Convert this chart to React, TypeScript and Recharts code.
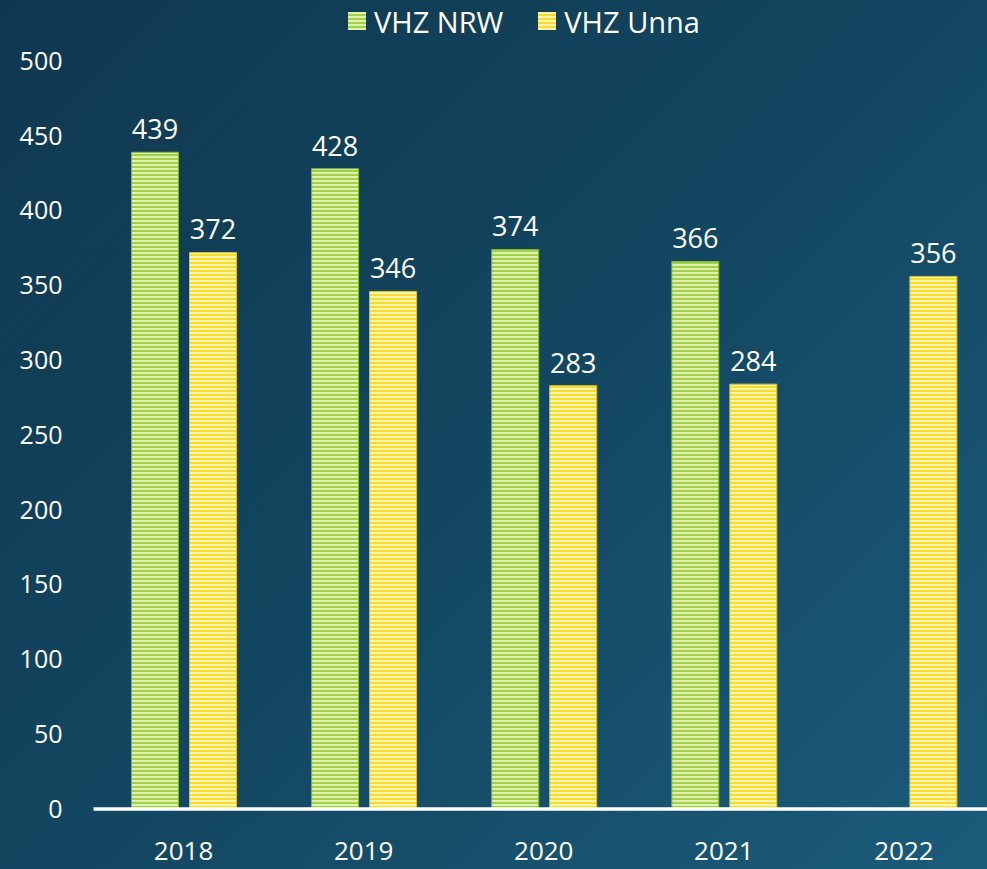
import React from 'react';
import { BarChart, Bar, XAxis, YAxis, Legend, LabelList } from 'recharts';

const years = ['2018', '2019', '2020', '2021', '2022'];
const vhzNrw: (number | null)[] = [439, 428, 374, 366, null];
const vhzUnna: number[] = [372, 346, 283, 284, 356];
const yTicks = [0, 50, 100, 150, 200, 250, 300, 350, 400, 450, 500];

const data = years.map((y, i) => ({ year: y, nrw: vhzNrw[i], unna: vhzUnna[i] }));

const FONT = '"Open Sans", "Noto Sans", sans-serif';

const LegendContent = () => (
  <div style={{ display: 'flex', justifyContent: 'center', alignItems: 'center', height: 40, paddingLeft: 54, fontFamily: FONT, fontSize: 29, color: '#ffffff' }}>
    <span style={{ display: 'inline-flex', alignItems: 'center', marginRight: 35 }}>
      <svg width={18} height={18} style={{ marginRight: 8 }}>
        <rect x={0} y={0} width={18} height={18} fill="url(#stripeGreen)" />
      </svg>
      VHZ NRW
    </span>
    <span style={{ display: 'inline-flex', alignItems: 'center' }}>
      <svg width={18} height={18} style={{ marginRight: 8 }}>
        <rect x={0} y={0} width={18} height={18} fill="url(#stripeYellow)" />
      </svg>
      VHZ Unna
    </span>
  </div>
);

export default function App() {
  return (
    <div
      style={{
        position: 'absolute',
        left: 0,
        top: 0,
        width: 987,
        height: 869,
        overflow: 'hidden',
        background: 'linear-gradient(135deg, #0f3850 0%, #134660 50%, #1b5c7a 100%)',
      }}
    >
      <svg width={0} height={0} style={{ position: 'absolute' }}>
        <defs>
          <pattern id="stripeGreen" patternUnits="userSpaceOnUse" width="8" height="4">
            <rect x="0" y="0" width="8" height="4" fill="#dff0b0" />
            <rect x="0" y="2" width="8" height="2" fill="#a2d046" />
          </pattern>
          <pattern id="stripeYellow" patternUnits="userSpaceOnUse" width="8" height="4">
            <rect x="0" y="0" width="8" height="4" fill="#fcf3ac" />
            <rect x="0" y="2" width="8" height="2" fill="#f4dc30" />
          </pattern>
        </defs>
      </svg>
      <BarChart
        width={994}
        height={869}
        data={data}
        margin={{ top: 21, right: 0, bottom: 0, left: 0 }}
        barSize={47}
        barGap={11}
      >
        <Legend
          verticalAlign="top"
          align="center"
          height={40}
          wrapperStyle={{ top: 1 }}
          content={<LegendContent />}
        />
        <XAxis
          dataKey="year"
          height={60}
          axisLine={{ stroke: '#ffffff', strokeWidth: 3.5 }}
          tickLine={false}
          tickSize={0}
          tickMargin={33}
          tick={{ fill: '#ffffff', fontSize: 26, fontFamily: FONT }}
        />
        <YAxis
          width={93.5}
          domain={[0, 500]}
          ticks={yTicks}
          interval={0}
          axisLine={false}
          tickLine={false}
          tickSize={0}
          tickMargin={31}
          tick={{ fill: '#ffffff', fontSize: 25, fontFamily: FONT }}
        />
        <Bar dataKey="nrw" name="VHZ NRW" fill="url(#stripeGreen)" stroke="#7fb53a" strokeWidth={1} isAnimationActive={false}>
          <LabelList dataKey="nrw" position="top" offset={13} fill="#ffffff" fontSize={27} fontFamily={FONT} />
        </Bar>
        <Bar dataKey="unna" name="VHZ Unna" fill="url(#stripeYellow)" stroke="#d8c22a" strokeWidth={1} isAnimationActive={false}>
          <LabelList dataKey="unna" position="top" offset={13} fill="#ffffff" fontSize={27} fontFamily={FONT} />
        </Bar>
      </BarChart>
    </div>
  );
}
